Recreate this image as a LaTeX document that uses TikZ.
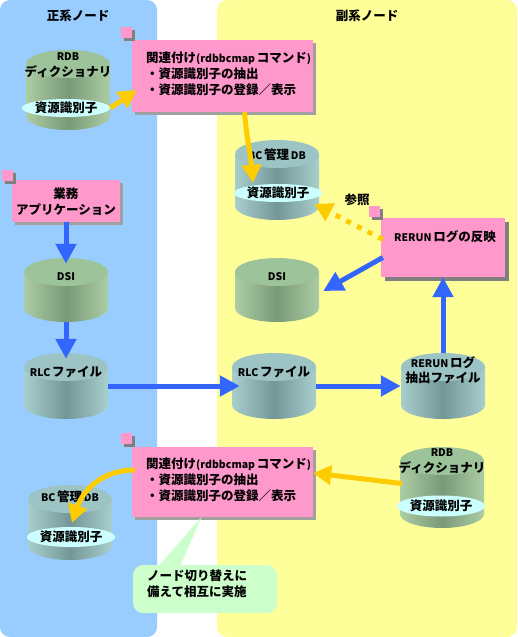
\documentclass[tikz,border=0pt]{standalone}
\usepackage{fontspec}
\setmainfont{Noto Sans CJK JP}
\usetikzlibrary{arrows.meta,calc,shapes.geometric,shadows}
\definecolor{bluepanel}{RGB}{153,204,255}
\definecolor{yellowpanel}{RGB}{255,255,153}
\definecolor{pinkfill}{RGB}{255,153,204}
\definecolor{greencall}{RGB}{204,255,204}
\definecolor{arrowblue}{RGB}{51,102,255}
\definecolor{arrowyellow}{RGB}{255,204,0}
\definecolor{idfill}{RGB}{204,255,255}
\definecolor{gside}{RGB}{172,205,164}
\definecolor{gmid}{RGB}{122,153,120}
\definecolor{gtop}{RGB}{157,195,155}
\definecolor{tside}{RGB}{168,206,206}
\definecolor{tmid}{RGB}{116,150,150}
\definecolor{ttop}{RGB}{157,196,196}
\definecolor{shadowgray}{RGB}{128,128,128}
\definecolor{shadowlight}{RGB}{160,160,160}
\newcommand\ltn[1]{{\fontsize{10.5}{12}\selectfont #1}}
\newcommand\mycyl[5]{%
  \path[left color=#5side,right color=#5side,middle color=#5mid] ({#2-42},{#3+14}) rectangle ({#2+42},{#4-14});
  \path[left color=#5side,right color=#5side,middle color=#5mid] (#2,{#4-14}) ellipse[x radius=42,y radius=14];
  \path[fill=#5top] (#2,{#3+14}) ellipse[x radius=42,y radius=14];
  \node[cylnode,minimum height={(#4-#3)*1pt}] (#1) at (#2,{(#3+#4)/2}) {};
}
\tikzset{
  cylnode/.style={inner sep=0pt,minimum width=84pt,draw=none},
  txt/.style={font=\bfseries\fontsize{12.5}{15.5}\selectfont,inner sep=0pt,align=center},
  boxtxt/.style={font=\bfseries\fontsize{12.5}{16}\selectfont,inner sep=0pt,align=left,anchor=west},
  idnode/.style={ellipse,fill=idfill,inner sep=0pt,font=\bfseries\fontsize{12.5}{15}\selectfont},
  pbox/.style={fill=pinkfill,inner sep=0pt,drop shadow={shadow xshift=3pt,shadow yshift=-3pt,fill=shadowlight,opacity=1}},
  pboxdark/.style={fill=pinkfill,inner sep=0pt,drop shadow={shadow xshift=4pt,shadow yshift=-4pt,fill=shadowgray,opacity=1}},
  sqnode/.style={fill=pinkfill,inner sep=0pt,minimum size=11pt,drop shadow={shadow xshift=3pt,shadow yshift=-3pt,fill=shadowgray,opacity=1}},
  bluearrow/.style={draw=arrowblue,line width=5pt,-{Triangle[width=20pt,length=20pt]}},
  yellowarrow/.style={draw=arrowyellow,line width=5pt,-{Triangle[width=19pt,length=18pt]}},
  dottedarrow/.style={yellowarrow,dash pattern=on 5pt off 7pt},
}
\begin{document}
\begin{tikzpicture}[x=1pt,y=-1pt]
\useasboundingbox (0,0) rectangle (517,637);
\fill[white] (0,0) rectangle (517,637);
% panels
\fill[bluepanel,rounded corners=10pt] (0,0) rectangle (157,637);
\fill[yellowpanel,rounded corners=10pt] (217,0) rectangle (517,637);
\node[txt] (ptitle) at (78,16) {正系ノード};
\node[txt] (stitle) at (367,16) {副系ノード};
% cylinders
\mycyl{prdb}{68}{50}{130}{g}
\node[txt] (prdbl) at (68,65) {\ltn{RDB}\\ディクショナリ};
\node[idnode,minimum width=68pt,minimum height=18pt] (pid1) at (66,108) {資源識別子};
\mycyl{sbc}{277}{140}{220}{t}
\node[txt] (sbcl) at (277,155) {\ltn{BC\,}管理\ltn{\,DB}};
\node[idnode,minimum width=70pt,minimum height=18pt] (sid1) at (278,193) {資源識別子};
\mycyl{pdsi}{66}{258}{322}{g}
\node[txt] (pdsil) at (66,277) {\ltn{DSI}};
\mycyl{sdsi}{277}{258}{322}{g}
\node[txt] (sdsil) at (277,277) {\ltn{DSI}};
\mycyl{prlc}{66}{353}{419}{t}
\node[txt] (prlcl) at (66,372) {\ltn{RLC\,}ファイル};
\mycyl{srlc}{274}{353}{419}{t}
\node[txt] (srlcl) at (274,372) {\ltn{RLC\,}ファイル};
\mycyl{rfile}{443}{353}{419}{t}
\node[txt] (rfilel) at (443,370) {\ltn{RERUN\,}ログ\\抽出ファイル};
\mycyl{pbc}{70}{485}{560}{t}
\node[txt] (pbcl) at (70,497) {\ltn{BC\,}管理\ltn{\,DB}};
\node[idnode,minimum width=72pt,minimum height=20pt] (pid2) at (71,537) {資源識別子};
\mycyl{srdb}{442}{447}{528}{g}
\node[txt] (srdbl) at (442,461) {\ltn{RDB}\\ディクショナリ};
\node[idnode,minimum width=72pt,minimum height=21pt] (sid2) at (441,506) {資源識別子};
% boxes
\node[pbox,minimum width=181pt,minimum height=72pt] (tbox) at (222.5,76) {};
\node[boxtxt] (tboxt) at (146,74) {関連付け\ltn{(rdbbcmap\,}コマンド\ltn{)}\\・資源識別子の抽出\\・資源識別子の登録／表示};
\node[sqnode] (tsq) at (126.5,32.5) {};
\node[pbox,minimum width=108pt,minimum height=42pt] (app) at (66,201) {};
\node[txt] (appt) at (66,201.5) {業務\\アプリケーション};
\node[sqnode] (appsq) at (7.5,175) {};
\node[pboxdark,minimum width=124pt,minimum height=59pt] (rerun) at (443,247.5) {};
\node[txt] (ruent) at (445,237) {\ltn{RERUN\,}ログの反映};
\node[sqnode] (rsq) at (374.5,211.5) {};
\node[txt] (refl) at (357,200) {参照};
\node[pbox,minimum width=181pt,minimum height=70pt] (bbox) at (222.5,482) {};
\node[boxtxt] (bboxt) at (146,480) {関連付け\ltn{(rdbbcmap\,}コマンド\ltn{)}\\・資源識別子の抽出\\・資源識別子の登録／表示};
\node[sqnode] (bsq) at (126.5,438.5) {};
% callout
\node[fill=greencall,rounded corners=10pt,minimum width=144pt,minimum height=48pt,inner sep=0pt] (call) at (205,589) {};
\fill[greencall] ($(call.north west)+(25,2)$) -- ($(bbox.south)+(-21,0)$) -- ($(call.north west)+(47,2)$) -- cycle;
\node[boxtxt] (callt) at (147,584) {ノード切り替えに\\備えて相互に実施};
% arrows
\draw[bluearrow] (app.south) -- ($(pdsi.north)+(0,6)$);
\draw[bluearrow] (pdsi.south) -- ($(prlc.north)+(0,6)$);
\draw[bluearrow] (prlc.east) -- ($(srlc.west)+(8,0)$);
\draw[bluearrow] (srlc.east) -- (rfile.west);
\draw[bluearrow] (rfile.north) -- (rerun.south);
\draw[bluearrow] ($(rerun.west)+(2,10)$) -- ($(sdsi.east)+(4,1)$);
\draw[yellowarrow] (pid1.east) -- ($(tbox.west)+(5,14)$);
\draw[yellowarrow] ($(tbox.south)+(22,0)$) .. controls +(2,25) and +(-2,-25) .. ($(sid1.north)+(-25,-1)$);
\draw[dottedarrow] ($(rerun.west)+(2,-8)$) -- ($(sbc.east)+(-5,24)$);
\draw[yellowarrow] ($(srdb.west)+(2,-4)$) -- ($(bbox.east)+(0,-9)$);
\draw[yellowarrow] ($(bbox.west)+(3,-12)$) .. controls +(-35,0) and +(10,-30) .. ($(pid2.north)+(1,-4)$);
\end{tikzpicture}
\end{document}
